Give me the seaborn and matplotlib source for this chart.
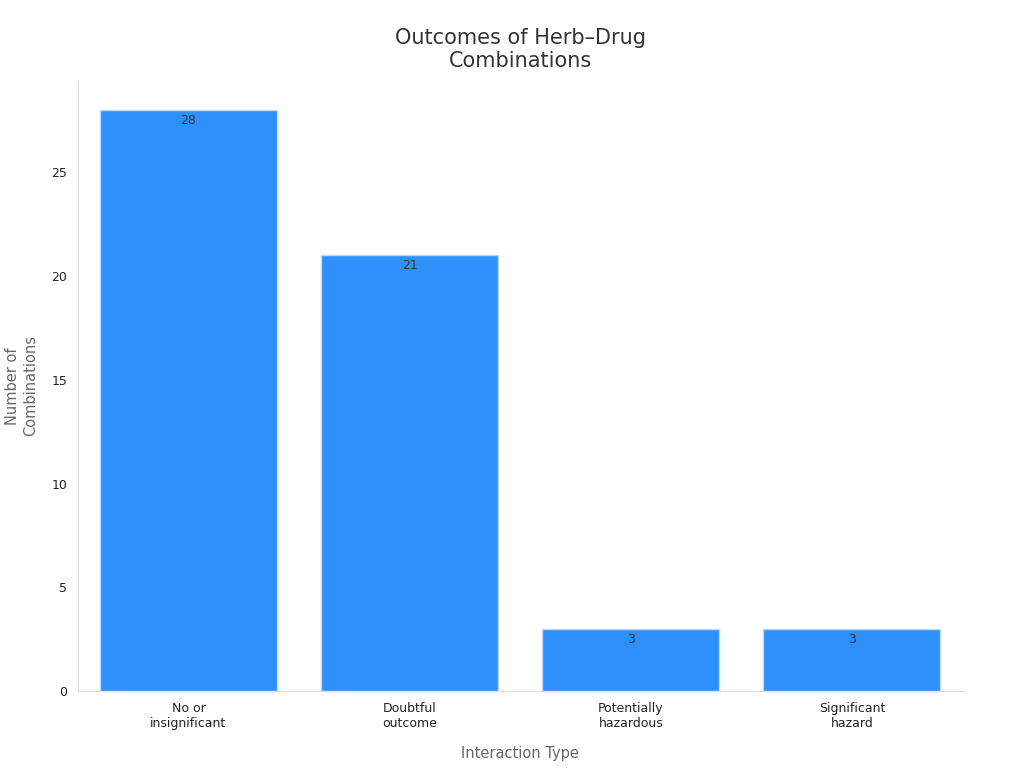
import matplotlib
matplotlib.use("Agg")
import matplotlib.pyplot as plt
import seaborn as sns
import pandas as pd

categories = ["No or\ninsignificant", "Doubtful\noutcome", "Potentially\nhazardous", "Significant\nhazard"]
counts = [28, 21, 3, 3]

df = pd.DataFrame({"type": categories, "count": counts})

sns.set_style("white")
plt.rcParams["font.family"] = "DejaVu Sans"

fig, ax = plt.subplots(figsize=(10.24, 7.68), dpi=100)
fig.subplots_adjust(left=0.076, right=0.94, top=0.895, bottom=0.1)

sns.barplot(data=df, x="type", y="count", color="#2E90FA", saturation=1,
            edgecolor="#B8D8FF", linewidth=1, width=0.8, ax=ax)

for p, v in zip(ax.patches, counts):
    ax.text(p.get_x() + p.get_width() / 2, v - 0.2, f"{v}",
            ha="center", va="top", fontsize=9, color="#333333")

ax.set_ylim(0, 29.4)
ax.set_xlim(-0.5, 3.5)
ax.set_yticks([0, 5, 10, 15, 20, 25])
ax.tick_params(axis="both", labelsize=9, colors="#222222", length=4, color="#cccccc")
ax.set_xlabel("Interaction Type", fontsize=10.5, color="#666666", labelpad=12)
ax.set_ylabel("Number of\nCombinations", fontsize=10.5, color="#666666", labelpad=10)
ax.set_title("Outcomes of Herb\u2013Drug\nCombinations", fontsize=15, color="#333333", pad=10)

for s in ["top", "right"]:
    ax.spines[s].set_visible(False)
for s in ["left", "bottom"]:
    ax.spines[s].set_color("#dddddd")

fig.savefig("out.png", dpi=100)
